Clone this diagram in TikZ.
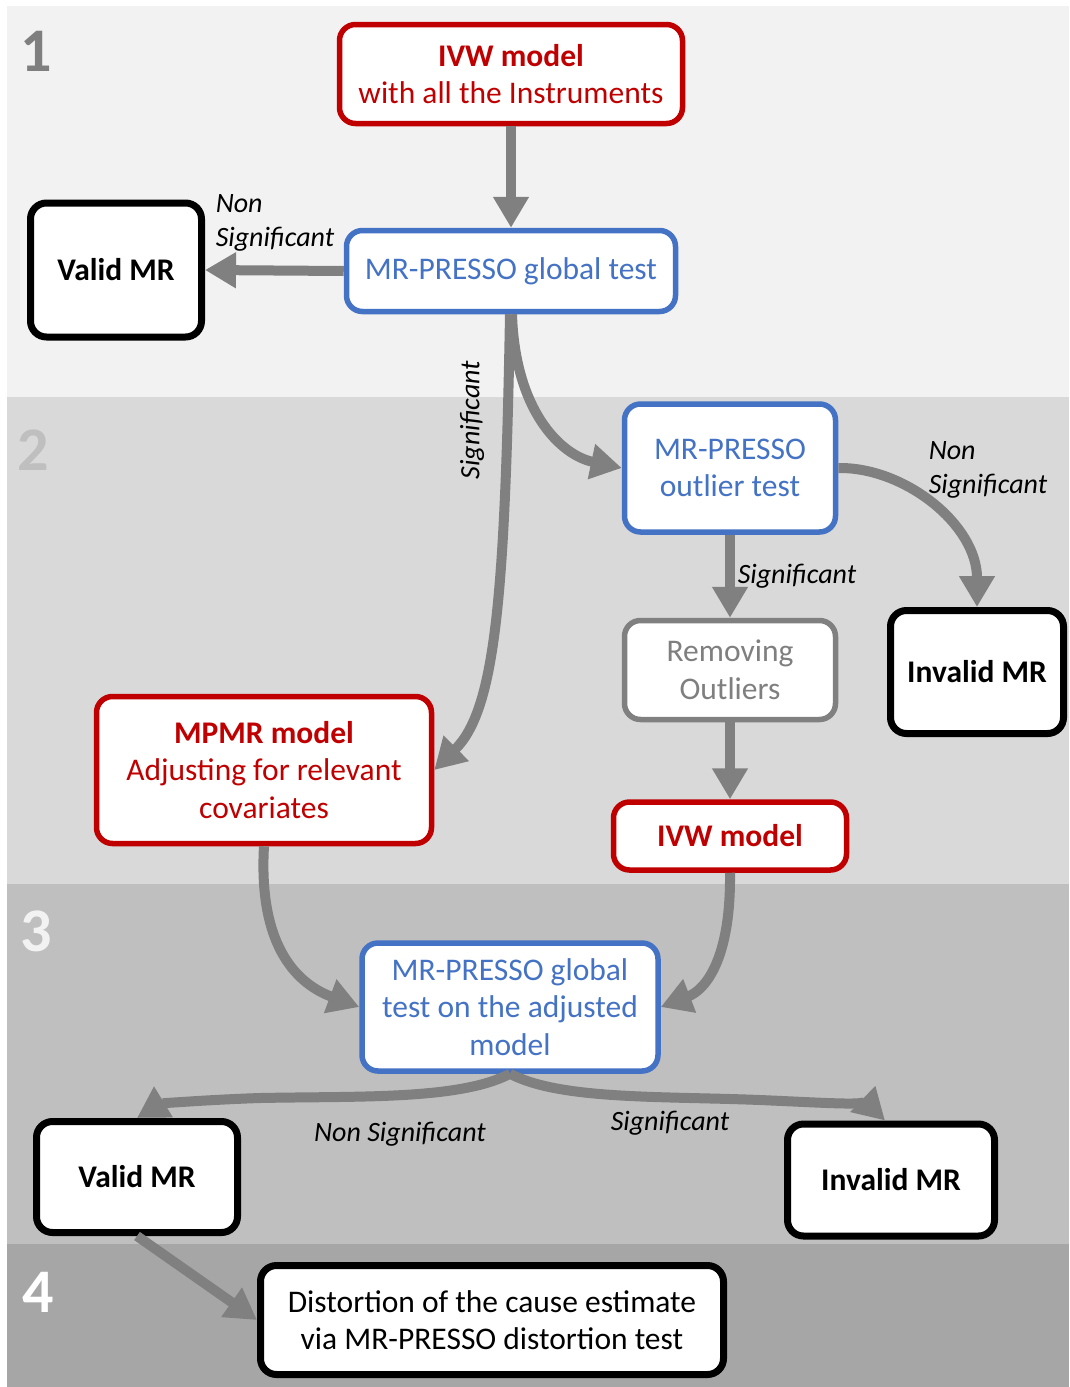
\documentclass[tikz,border=0pt]{standalone}
\usepackage{fontspec}
\setmainfont{Carlito}
\usetikzlibrary{arrows.meta}
\definecolor{band1}{HTML}{F2F2F2}
\definecolor{band2}{HTML}{D9D9D9}
\definecolor{band3}{HTML}{BFBFBF}
\definecolor{band4}{HTML}{A6A6A6}
\definecolor{myred}{HTML}{C00000}
\definecolor{myblue}{HTML}{4472C4}
\definecolor{arrowgray}{HTML}{808080}
\definecolor{txtgray}{HTML}{7F7F7F}
\tikzset{
  box/.style={rectangle, rounded corners=16pt, fill=white, inner sep=0pt, align=center,
    font=\fontsize{31.5}{37.5}\selectfont},
  redbox/.style={box, draw=myred, line width=5.5pt, text=myred},
  bluebox/.style={box, draw=myblue, line width=5.5pt, text=myblue},
  graybox/.style={box, draw=arrowgray, line width=5.5pt, text=txtgray},
  blackbox/.style={box, draw=black, line width=7pt, text=black},
  arr/.style={draw=arrowgray, line width=10pt, -{Triangle[length=31pt,width=34pt]}},
  lab/.style={font=\fontsize{28}{34}\selectfont\itshape, inner sep=0pt},
  bandnum/.style={font=\fontsize{62}{62}\selectfont\bfseries, inner sep=0pt}
}
\begin{document}
\begin{tikzpicture}[x=1pt,y=-1pt]
\useasboundingbox (0,0) rectangle (1069,1387);
\fill[white] (0,0) rectangle (1069,1387);
\fill[band1] (7,6) rectangle (1069,397);
\fill[band2] (7,397) rectangle (1069,884);
\fill[band3] (7,884) rectangle (1069,1244);
\fill[band4] (7,1244) rectangle (1069,1387);
\node[bandnum, text=txtgray] (n1) at (36,51) {1};
\node[bandnum, text=band3] (n2) at (33,450) {2};
\node[bandnum, text=band1] (n3) at (36,931) {3};
\node[bandnum, text=white] (n4) at (38,1292) {4};

% boxes
\node[redbox, minimum width=343pt, minimum height=99pt] (ivw1) at (511,74) {\textbf{IVW model}\\with all the Instruments};
\node[bluebox, minimum width=329pt, minimum height=81pt] (gt) at (511,271) {MR-PRESSO global test};
\node[blackbox, minimum width=171pt, minimum height=134pt] (valid1) at (116,270) {\textbf{Valid MR}};
\node[bluebox, minimum width=211pt, minimum height=128pt] (out) at (730,468) {MR-PRESSO\\outlier test};
\node[graybox, minimum width=211pt, minimum height=99pt] (rem) at (730,670) {Removing\\Outliers};
\node[blackbox, minimum width=173pt, minimum height=123pt] (inv1) at (977,672) {\textbf{Invalid MR}};
\node[redbox, minimum width=335pt, minimum height=147pt] (mpmr) at (264,770) {\textbf{MPMR model}\\Adjusting for relevant\\covariates};
\node[redbox, minimum width=233pt, minimum height=68pt] (ivw2) at (730,836) {\textbf{IVW model}};
\node[bluebox, minimum width=296pt, minimum height=128pt] (adj) at (510,1007) {MR-PRESSO global\\test on the adjusted\\model};
\node[blackbox, minimum width=201pt, minimum height=111pt] (valid2) at (137,1177) {\textbf{Valid MR}};
\node[blackbox, minimum width=207pt, minimum height=112pt] (inv2) at (891,1180) {\textbf{Invalid MR}};
\node[blackbox, minimum width=463pt, minimum height=109pt] (dist) at (492,1320) {Distortion of the cause estimate\\via MR-PRESSO distortion test};

% connectors
\draw[arr] (ivw1.south) -- (gt.north);
\draw[arr] (gt.west) -- (valid1.east);
\draw[arr] ([xshift=-1pt]gt.south) .. controls (505,600) and (495,710) .. (mpmr.east);
\draw[arr] ([xshift=1pt]gt.south) .. controls (515,410) and (560,455) .. (out.west);
\draw[arr] (out.east) .. controls (905,467) and (977,525) .. (inv1.north);
\draw[arr] (out.south) -- (rem.north);
\draw[arr] (rem.south) -- (ivw2.north);
\draw[arr] (mpmr.south) .. controls (258,950) and (300,985) .. (adj.west);
\draw[arr] (ivw2.south) .. controls (731,960) and (705,990) .. (adj.east);
\draw[arr] (adj.south) .. controls (460,1100) and (360,1096) .. (260,1098) .. controls (200,1100) and (160,1104) .. (valid2.north);
\draw[arr] (adj.south) .. controls (560,1100) and (660,1096) .. (760,1100) .. controls (830,1103) and (870,1106) .. ([xshift=-6pt]inv2.north);
\draw[arr] (valid2.south) -- (dist.west);

% labels
\node[lab, align=left] (l1) at (275,223) {Non\\Significant};
\node[lab, rotate=90] (l2) at (472,420) {Significant};
\node[lab, align=left] (l3) at (988,470) {Non\\Significant};
\node[lab] (l4) at (797,576) {Significant};
\node[lab] (l5) at (400,1134) {Non Significant};
\node[lab] (l6) at (670,1123) {Significant};
\end{tikzpicture}
\end{document}
